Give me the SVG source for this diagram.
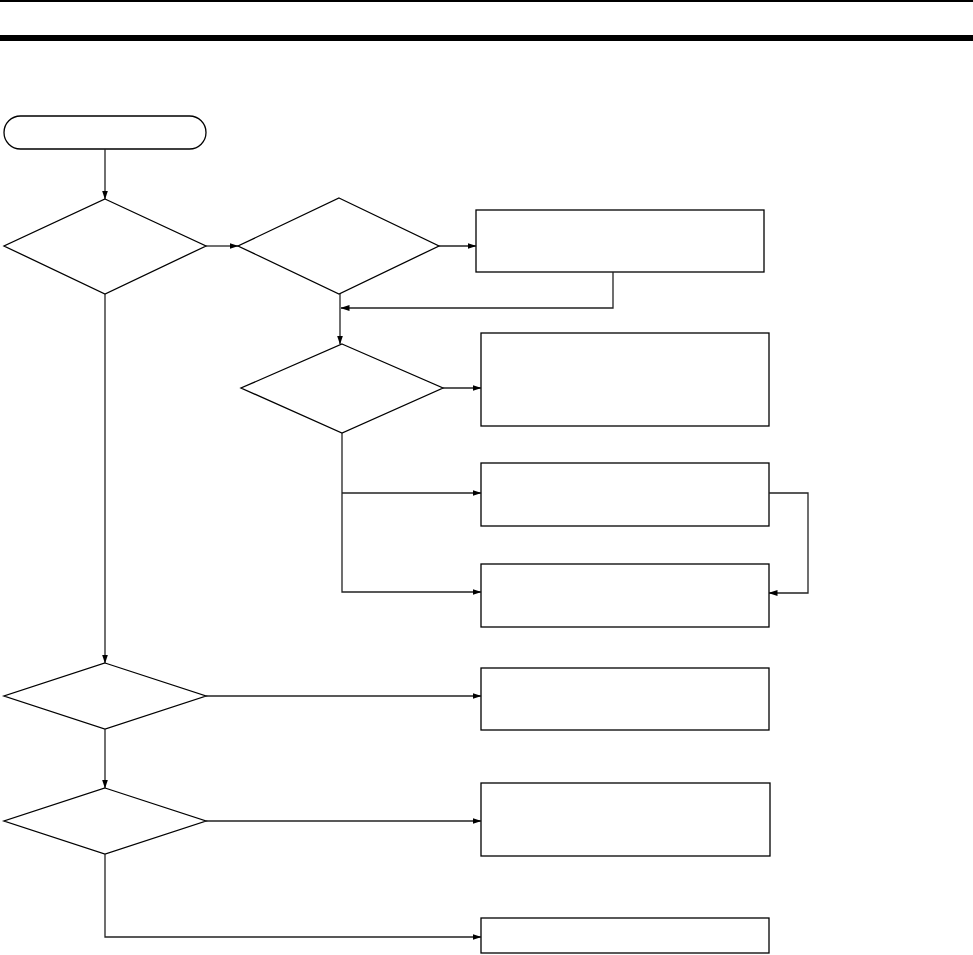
<svg xmlns="http://www.w3.org/2000/svg" width="973" height="955" viewBox="0 0 973 955">
<style>
.n{fill:#fff;stroke:#000;stroke-width:1.3}
.c{fill:none;stroke:#222;stroke-width:1.3}
.bar{fill:#000}
</style>
<defs>
<marker id="ah" markerWidth="9" markerHeight="6" refX="8.5" refY="3" orient="auto" markerUnits="userSpaceOnUse">
<path d="M0,0 L9,3 L0,6 Z" fill="#000"/>
</marker>
</defs>
<rect width="973" height="955" fill="#fff"/>
<rect class="bar" x="0" y="0" width="973" height="2"/>
<rect class="bar" x="0" y="35" width="973" height="6"/>
<g id="start"><rect class="n" x="4" y="116" width="202" height="33" rx="16.5" ry="16.5"/></g>
<g id="d1"><polygon class="n" points="105,199 206,246 105,294 4,246"/></g>
<g id="d2"><polygon class="n" points="339,198 439,246 339,294 238,246"/></g>
<g id="b1"><rect class="n" x="476" y="210" width="288" height="62"/></g>
<g id="d3"><polygon class="n" points="342,344 443,388 342,433 241,388"/></g>
<g id="b2"><rect class="n" x="481" y="333" width="288" height="93"/></g>
<g id="b3"><rect class="n" x="481" y="463" width="288" height="63"/></g>
<g id="b4"><rect class="n" x="481" y="564" width="288" height="63"/></g>
<g id="d4"><polygon class="n" points="105,663 206,696 105,729 4,696"/></g>
<g id="b5"><rect class="n" x="481" y="668" width="288" height="62"/></g>
<g id="d5"><polygon class="n" points="105,788 206,821 105,854 4,821"/></g>
<g id="b6"><rect class="n" x="481" y="783" width="289" height="73"/></g>
<g id="b7"><rect class="n" x="481" y="918" width="288" height="35"/></g>
<g id="connectors">
<path class="c" d="M105,149 V199" marker-end="url(#ah)"/>
<path class="c" d="M206,246 H238" marker-end="url(#ah)"/>
<path class="c" d="M439,246 H476" marker-end="url(#ah)"/>
<path class="c" d="M613,272 V308 H341" marker-end="url(#ah)"/>
<path class="c" d="M340,294 V344" marker-end="url(#ah)"/>
<path class="c" d="M443,388 H481" marker-end="url(#ah)"/>
<path class="c" d="M342,433 V592 H481" marker-end="url(#ah)"/>
<path class="c" d="M342,493 H481" marker-end="url(#ah)"/>
<path class="c" d="M769,493 H808 V593 H769" marker-end="url(#ah)"/>
<path class="c" d="M105,294 V663" marker-end="url(#ah)"/>
<path class="c" d="M206,696 H481" marker-end="url(#ah)"/>
<path class="c" d="M105,729 V788" marker-end="url(#ah)"/>
<path class="c" d="M206,821 H481" marker-end="url(#ah)"/>
<path class="c" d="M105,854 V937 H481" marker-end="url(#ah)"/>
</g>
</svg>
